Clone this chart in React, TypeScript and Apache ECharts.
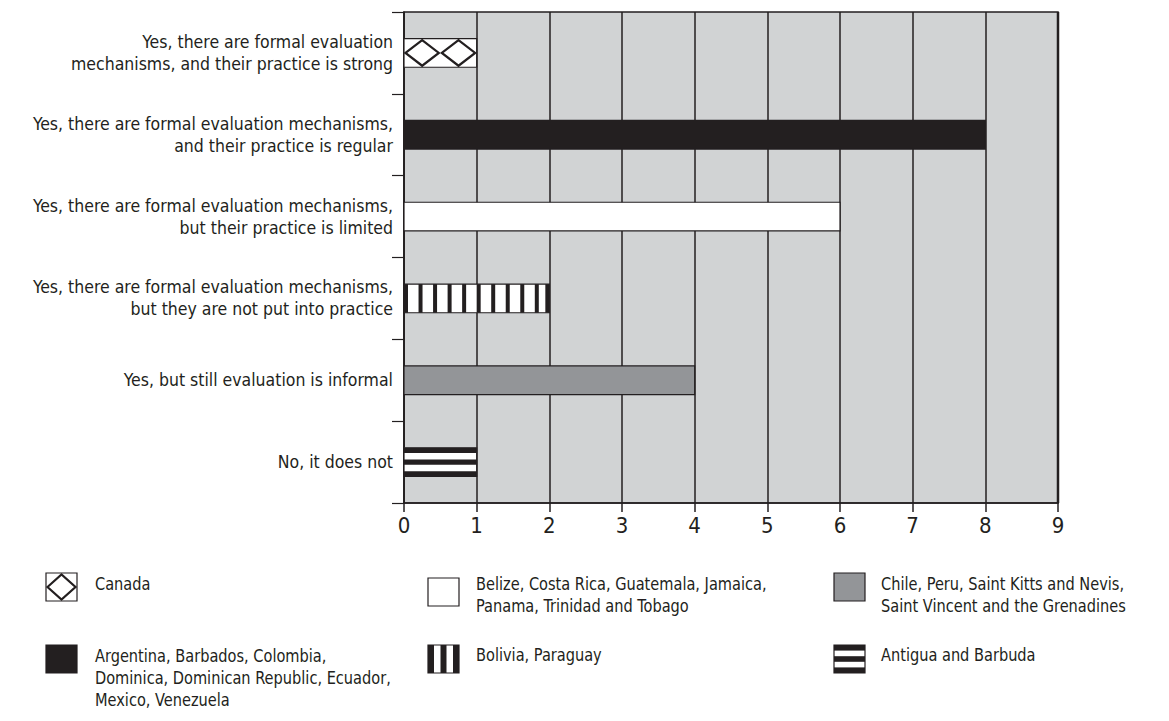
import React, { useEffect, useRef } from "react";
import * as echarts from "echarts";

const categories = [
  "Yes, there are formal evaluation\nmechanisms, and their practice is strong",
  "Yes, there are formal evaluation mechanisms,\nand their practice is regular",
  "Yes, there are formal evaluation mechanisms,\nbut their practice is limited",
  "Yes, there are formal evaluation mechanisms,\nbut they are not put into practice",
  "Yes, but still evaluation is informal",
  "No, it does not",
];
const counts = [1, 8, 6, 2, 4, 1];
const patterns = ["diamond", "black", "white", "vstripe", "grey", "hstripe"];
const xMin = 0;
const xMax = 9;
const xStep = 1;
const legendLabels = [
  "Canada",
  "Argentina, Barbados, Colombia,\nDominica, Dominican Republic, Ecuador,\nMexico, Venezuela",
  "Belize, Costa Rica, Guatemala, Jamaica,\nPanama, Trinidad and Tobago",
  "Bolivia, Paraguay",
  "Chile, Peru, Saint Kitts and Nevis,\nSaint Vincent and the Grenadines",
  "Antigua and Barbuda",
];

const INK = "#231f20";
const GREY = "#939598";
const BG = "#d1d3d4";
const FONT = "'Liberation Sans Narrow', 'Arial Narrow', 'DejaVu Sans Condensed', sans-serif";

// legend layout: [iconX, iconY, textX, textY]
const legendLayout = [
  [46, 573, 95, 573],
  [46, 645, 95, 645],
  [428, 578, 476, 573],
  [428, 645, 476, 644],
  [834, 573, 881, 573],
  [834, 645, 881, 644],
];

function shapes(kind: string, x: number, y: number, w: number, h: number, unit: number, sw: number, legend: boolean) {
  const out: any[] = [];
  const fill = kind === "black" ? INK : kind === "grey" ? GREY : "#ffffff";
  out.push({
    type: "rect",
    shape: { x, y, width: w, height: h },
    style: { fill, stroke: INK, lineWidth: 1.2 },
  });
  if (kind === "diamond") {
    const n = Math.max(1, Math.round(w / (unit / 2)));
    const dw = w / n;
    for (let k = 0; k < n; k++) {
      const x0 = x + k * dw;
      out.push({
        type: "polygon",
        shape: {
          points: [
            [x0 + 1.5, y + h / 2],
            [x0 + dw / 2, y + 1.5],
            [x0 + dw - 1.5, y + h / 2],
            [x0 + dw / 2, y + h - 1.5],
          ],
        },
        style: { fill: "none", stroke: INK, lineWidth: 2.2 },
      });
    }
  }
  if (kind === "vstripe") {
    const period = unit / 5;
    const n = Math.round(w / period);
    for (let k = 0; k <= n; k++) {
      const sx = Math.min(x + k * period, x + w - sw);
      out.push({
        type: "rect",
        shape: { x: sx, y, width: sw, height: h },
        style: { fill: INK },
      });
    }
  }
  if (kind === "hstripe") {
    const bh = h * (legend ? 0.2 : 0.18);
    [y, y + h / 2 - bh / 2, y + h - bh].forEach((yy) => {
      out.push({
        type: "rect",
        shape: { x, y: yy, width: w, height: bh },
        style: { fill: INK },
      });
    });
  }
  return out;
}

export default function App() {
  const ref = useRef<HTMLDivElement>(null);
  useEffect(() => {
    if (!ref.current) return;
    const chart = echarts.init(ref.current, undefined, { renderer: "svg" });

    const graphics: any[] = [];
    legendLabels.forEach((label, i) => {
      const [ix, iy, tx, ty] = legendLayout[i];
      const kind = patterns[i];
      const w = 31;
      const h = 28;
      let unit = 2 * w;
      let sw = 4;
      if (kind === "vstripe") {
        sw = 6;
        unit = (5 * (w - sw)) / 2;
      }
      graphics.push({
        type: "group",
        children: shapes(kind, ix, iy, w, h, unit, sw, true),
      });
      graphics.push({
        type: "text",
        x: tx,
        y: ty,
        scaleX: 0.9,
        style: {
          text: label,
          fill: INK,
          fontSize: 18,
          lineHeight: 22,
          fontFamily: FONT,
          verticalAlign: "top",
          align: "left",
        },
      });
    });
    // heavier right border of the plot frame
    graphics.push({
      type: "line",
      shape: { x1: 1058, y1: 12, x2: 1058, y2: 503 },
      style: { stroke: INK, lineWidth: 2.5 },
      z: 10,
    });

    chart.setOption({
      animation: false,
      grid: {
        left: 404,
        right: 111,
        top: 12,
        bottom: 218,
        show: true,
        backgroundColor: BG,
        borderColor: INK,
        borderWidth: 1.5,
      },
      xAxis: {
        type: "value",
        min: xMin,
        max: xMax,
        interval: xStep,
        axisLine: { show: true, lineStyle: { color: INK, width: 1.5 } },
        axisTick: { show: true, length: 9, lineStyle: { color: INK, width: 1.5 } },
        axisLabel: { color: INK, fontSize: 22, fontFamily: FONT, margin: 11 },
        splitLine: { show: true, lineStyle: { color: INK, width: 1.5 } },
      },
      yAxis: {
        type: "category",
        data: categories,
        inverse: true,
        axisLine: { show: true, lineStyle: { color: INK, width: 1.5 } },
        axisTick: { show: true, length: 12, alignWithLabel: false, lineStyle: { color: INK, width: 1.2 } },
        axisLabel: {
          color: INK,
          fontSize: 17.5,
          lineHeight: 22,
          fontFamily: FONT,
          margin: 11,
          align: "right",
        },
        splitLine: { show: false },
      },
      series: [
        {
          type: "custom",
          data: counts.map((v, i) => [v, i]),
          encode: { x: 0, y: 1 },
          renderItem: (params: any, api: any) => {
            const i = params.dataIndex;
            const v = api.value(0);
            const c = api.value(1);
            const p0 = api.coord([0, c]);
            const p1 = api.coord([v, c]);
            const unit = api.coord([1, c])[0] - p0[0];
            const band = api.size([0, 1])[1];
            const h = band * 0.35;
            return {
              type: "group",
              children: shapes(patterns[i], p0[0], p0[1] - h / 2, p1[0] - p0[0], h, unit, 4, false),
            };
          },
        },
      ],
      graphic: graphics,
    });
    return () => chart.dispose();
  }, []);
  return (
    <div
      ref={ref}
      style={{ position: "fixed", left: 0, top: 0, width: 1169, height: 721, background: "#fff" }}
    />
  );
}
